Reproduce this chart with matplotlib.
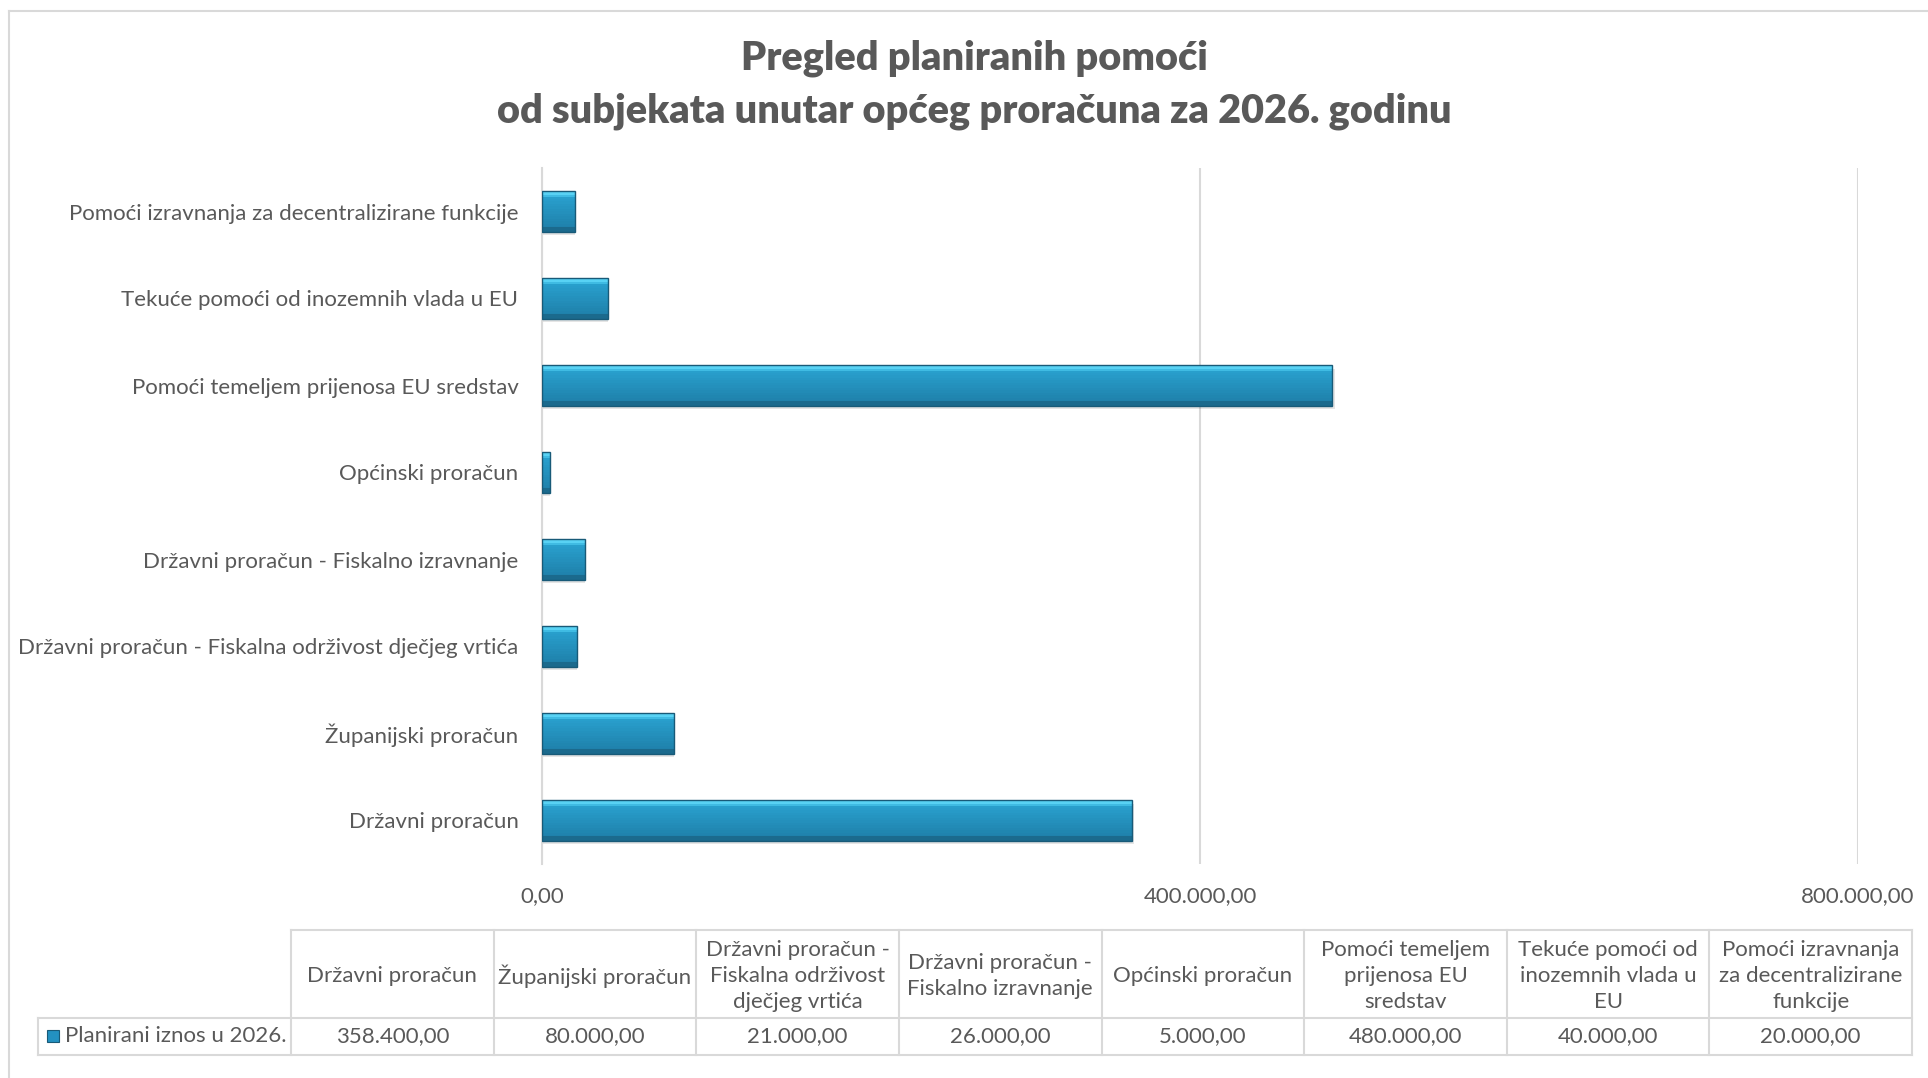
import matplotlib
matplotlib.use("Agg")
import matplotlib.pyplot as plt
from matplotlib.patches import Rectangle
from matplotlib.lines import Line2D
import numpy as np

plt.rcParams['font.family'] = ['Lato', 'DejaVu Sans']

# data (bottom to top in the chart, left to right in the table)
kategorije = [
    "Državni proračun",
    "Županijski proračun",
    "Državni proračun - Fiskalna održivost dječjeg vrtića",
    "Državni proračun - Fiskalno izravnanje",
    "Općinski proračun",
    "Pomoći temeljem prijenosa EU sredstav",
    "Tekuće pomoći od inozemnih vlada u EU",
    "Pomoći izravnanja za decentralizirane funkcije",
]
zaglavlja = [
    "Državni proračun",
    "Županijski proračun",
    "Državni proračun -\nFiskalna održivost\ndječjeg vrtića",
    "Državni proračun -\nFiskalno izravnanje",
    "Općinski proračun",
    "Pomoći temeljem\nprijenosa EU\nsredstav",
    "Tekuće pomoći od\ninozemnih vlada u\nEU",
    "Pomoći izravnanja\nza decentralizirane\nfunkcije",
]
iznosi = [358400, 80000, 21000, 26000, 5000, 480000, 40000, 20000]
serija = "Planirani iznos u 2026."
x_ticks = [0, 400000, 800000]

W, H = 1928, 1078
TXT = '#595959'
GRID = '#D9D9D9'
FS = 16


def fmt(v):
    s = "{:,.2f}".format(v)
    return s.replace(",", "X").replace(".", ",").replace("X", ".")


def fx(px):
    return px / W


def fy(py):
    return 1 - py / H


fig = plt.figure(figsize=(W / 100, H / 100), dpi=100)

# outer chart border (only top and left visible)
fig.add_artist(Line2D([fx(9), fx(9)], [fy(11), fy(H + 5)], color=GRID, lw=1.5))
fig.add_artist(Line2D([fx(9), fx(W + 5)], [fy(11), fy(11)], color=GRID, lw=1.5))

fig.text(fx(974), fy(58), "Pregled planiranih pomoći", ha='center', va='center',
         fontsize=28.5, fontweight='heavy', color=TXT)
fig.text(fx(974), fy(111), "od subjekata unutar općeg proračuna za 2026. godinu",
         ha='center', va='center', fontsize=28.5, fontweight='heavy', color=TXT)

ax = fig.add_axes([fx(542), fy(864), fx(1858) - fx(542), fy(168) - fy(864)])
y = np.arange(len(kategorije))
bh = 0.46

# shadow
ax.barh(y - 0.035, np.array(iznosi) * 1.004, height=bh, color='#000000',
        alpha=0.10, zorder=2, linewidth=0)

# gradient bars built from slices
n = 16
top_c = np.array([0x2a, 0xa4, 0xd2]) / 255
bot_c = np.array([0x1e, 0x7e, 0xa8]) / 255
for i in range(n):
    t = i / (n - 1)
    c = top_c * (1 - t) + bot_c * t
    ax.barh(y + bh / 2 - (i + 0.5) * bh / n, iznosi, height=bh / n * 1.05,
            color=c, linewidth=0, zorder=3)
# bevel highlight on top and dark on bottom
ax.barh(y + bh / 2 - 0.022, iznosi, height=0.044, color='#58d2f4', linewidth=0, zorder=4)
ax.barh(y + bh / 2 - 0.055, iznosi, height=0.022, color='#3fbbe3', linewidth=0, zorder=4)
ax.barh(y - bh / 2 + 0.025, iznosi, height=0.05, color='#1b6a8d', linewidth=0, zorder=4)
ax.barh(y, iznosi, height=bh, facecolor='none', edgecolor='#185a78', linewidth=1.0, zorder=5)

ax.set_xlim(0, 800000)
ax.set_ylim(-0.5, len(kategorije) - 0.5)
ax.set_xticks(x_ticks)
ax.set_xticklabels([fmt(v) for v in x_ticks])
ax.set_yticks(y)
ax.set_yticklabels(kategorije)
ax.grid(axis='x', color=GRID, lw=1.5, zorder=0)
ax.set_axisbelow(True)
for s in ['top', 'right', 'bottom']:
    ax.spines[s].set_visible(False)
ax.spines['left'].set_color(GRID)
ax.spines['left'].set_linewidth(1.5)
ax.tick_params(axis='both', length=0, labelsize=FS, labelcolor=TXT)
ax.tick_params(axis='y', pad=17)
ax.tick_params(axis='x', pad=16)

# data table
col_x = np.linspace(291, 1912, len(kategorije) + 1)
t_top, t_mid, t_bot = 930, 1018, 1055
lab_l = 38
kw = dict(color=GRID, lw=1.5)
fig.add_artist(Line2D([fx(col_x[0]), fx(col_x[-1])], [fy(t_top), fy(t_top)], **kw))
fig.add_artist(Line2D([fx(lab_l), fx(col_x[-1])], [fy(t_mid), fy(t_mid)], **kw))
fig.add_artist(Line2D([fx(lab_l), fx(col_x[-1])], [fy(t_bot), fy(t_bot)], **kw))
fig.add_artist(Line2D([fx(lab_l), fx(lab_l)], [fy(t_mid), fy(t_bot)], **kw))
for cx in col_x:
    fig.add_artist(Line2D([fx(cx), fx(cx)], [fy(t_top), fy(t_bot)], **kw))

for i, (zg, v) in enumerate(zip(zaglavlja, iznosi)):
    cx = (col_x[i] + col_x[i + 1]) / 2
    fig.text(fx(cx), fy((t_top + t_mid) / 2 + 2), zg, ha='center', va='center',
             fontsize=FS, color=TXT, linespacing=1.4)
    fig.text(fx(cx), fy((t_mid + t_bot) / 2), fmt(v), ha='center', va='center',
             fontsize=FS, color=TXT)

fig.add_artist(Rectangle((fx(47), fy(1042)), fx(12), fy(0) - fy(12),
                         facecolor='#2391c1', edgecolor='#185a78', lw=0.8))
fig.text(fx(65), fy((t_mid + t_bot) / 2), serija, ha='left', va='center',
         fontsize=FS, color=TXT)

fig.savefig("out.png", dpi=100)
